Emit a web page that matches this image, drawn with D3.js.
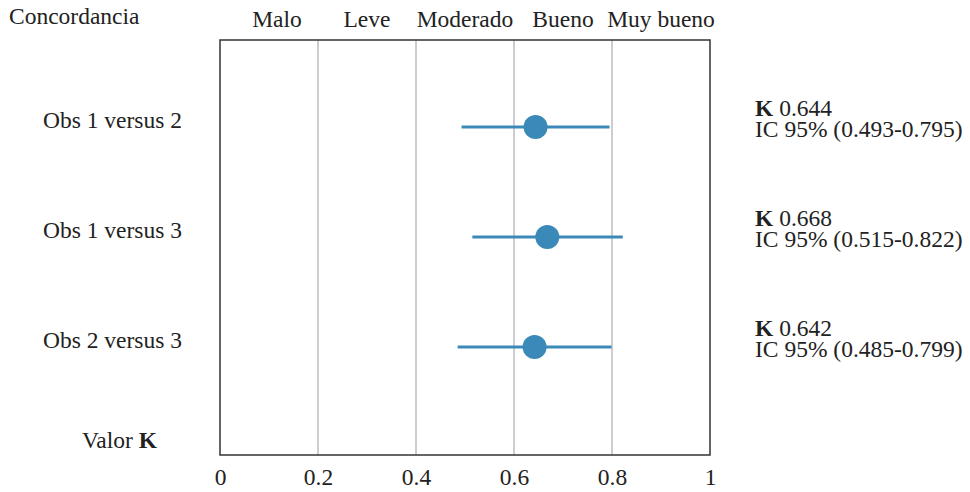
<!DOCTYPE html>
<html lang="es">
<head>
<meta charset="UTF-8">
<title>Concordancia Kappa</title>
<script src="https://d3js.org/d3.v7.min.js"></script>
<style>
  body { margin: 0; background: #fff; }
  svg text { font-family: "Liberation Serif", "Times New Roman", serif; fill: #222; }
</style>
</head>
<body>
<div id="chart"></div>
<script>
  // data
  const comparisons = ["Obs 1 versus 2", "Obs 1 versus 3", "Obs 2 versus 3"];
  const kappa = [0.644, 0.668, 0.642];
  const ciLow = [0.493, 0.515, 0.485];
  const ciHigh = [0.795, 0.822, 0.799];
  const levelNames = ["Malo", "Leve", "Moderado", "Bueno", "Muy bueno"];
  const levelCuts = [0, 0.2, 0.4, 0.6, 0.8, 1];
  const xTicks = [0, 0.2, 0.4, 0.6, 0.8, 1];

  const width = 970;
  const height = 492;
  const box = { left: 220, right: 710, top: 40, bottom: 455 };
  const fontSize = 23.5;
  const color = "#3a89b8";

  const svg = d3.select("#chart").append("svg")
    .attr("width", width)
    .attr("height", height);

  const x = d3.scaleLinear().domain([0, 1]).range([box.left, box.right]);
  const y = d3.scalePoint().domain(comparisons).range([127, 347]);

  // vertical reference lines
  svg.append("g")
    .selectAll("line")
    .data(xTicks.slice(1, -1))
    .join("line")
    .attr("x1", d => x(d)).attr("x2", d => x(d))
    .attr("y1", box.top).attr("y2", box.bottom)
    .attr("stroke", "#bdbdbd")
    .attr("stroke-width", 1.5);

  // frame
  svg.append("rect")
    .attr("x", box.left).attr("y", box.top)
    .attr("width", box.right - box.left)
    .attr("height", box.bottom - box.top)
    .attr("fill", "none")
    .attr("stroke", "#333")
    .attr("stroke-width", 1.5);

  // bottom axis: labels only
  const axis = svg.append("g")
    .attr("transform", `translate(0,${box.bottom})`)
    .call(d3.axisBottom(x).tickValues(xTicks).tickSize(0).tickPadding(13)
      .tickFormat(d => d3.format("~g")(d)));
  axis.select(".domain").remove();
  axis.selectAll("text")
    .attr("font-size", fontSize)
    .attr("font-family", "Liberation Serif")
    .attr("fill", "#222");

  // agreement categories on top
  svg.append("g")
    .selectAll("text")
    .data(levelNames)
    .join("text")
    .attr("x", (d, i) => x((levelCuts[i] + levelCuts[i + 1]) / 2) + (i === 0 ? 8 : 0))
    .attr("y", 27)
    .attr("text-anchor", "middle")
    .attr("font-size", fontSize)
    .text(d => d);

  svg.append("text")
    .attr("x", 9).attr("y", 24)
    .attr("font-size", fontSize)
    .text("Concordancia");

  const valor = svg.append("text")
    .attr("x", 157).attr("y", 448)
    .attr("text-anchor", "end")
    .attr("font-size", fontSize);
  valor.append("tspan").text("Valor ");
  valor.append("tspan").attr("font-weight", "bold").text("K");

  // row labels
  svg.append("g")
    .selectAll("text")
    .data(comparisons)
    .join("text")
    .attr("x", 182)
    .attr("y", d => y(d) + 1)
    .attr("text-anchor", "end")
    .attr("font-size", fontSize)
    .text(d => d);

  // CI lines and points
  const rows = comparisons.map((c, i) => ({ c, k: kappa[i], lo: ciLow[i], hi: ciHigh[i] }));

  svg.append("g")
    .selectAll("line")
    .data(rows)
    .join("line")
    .attr("x1", d => x(d.lo)).attr("x2", d => x(d.hi))
    .attr("y1", d => y(d.c)).attr("y2", d => y(d.c))
    .attr("stroke", color)
    .attr("stroke-width", 3);

  svg.append("g")
    .selectAll("circle")
    .data(rows)
    .join("circle")
    .attr("cx", d => x(d.k))
    .attr("cy", d => y(d.c))
    .attr("r", 12)
    .attr("fill", color);

  // value annotations at right
  const notes = svg.append("g")
    .selectAll("text")
    .data(rows)
    .join("text")
    .attr("x", 755)
    .attr("y", d => y(d.c) - 11)
    .attr("font-size", fontSize);
  notes.append("tspan").attr("font-weight", "bold").text("K");
  notes.append("tspan").text(d => " " + d3.format(".3f")(d.k));
  notes.append("tspan")
    .attr("x", 755).attr("dy", 21)
    .text(d => `IC 95% (${d3.format(".3f")(d.lo)}-${d3.format(".3f")(d.hi)})`);
</script>
</body>
</html>
